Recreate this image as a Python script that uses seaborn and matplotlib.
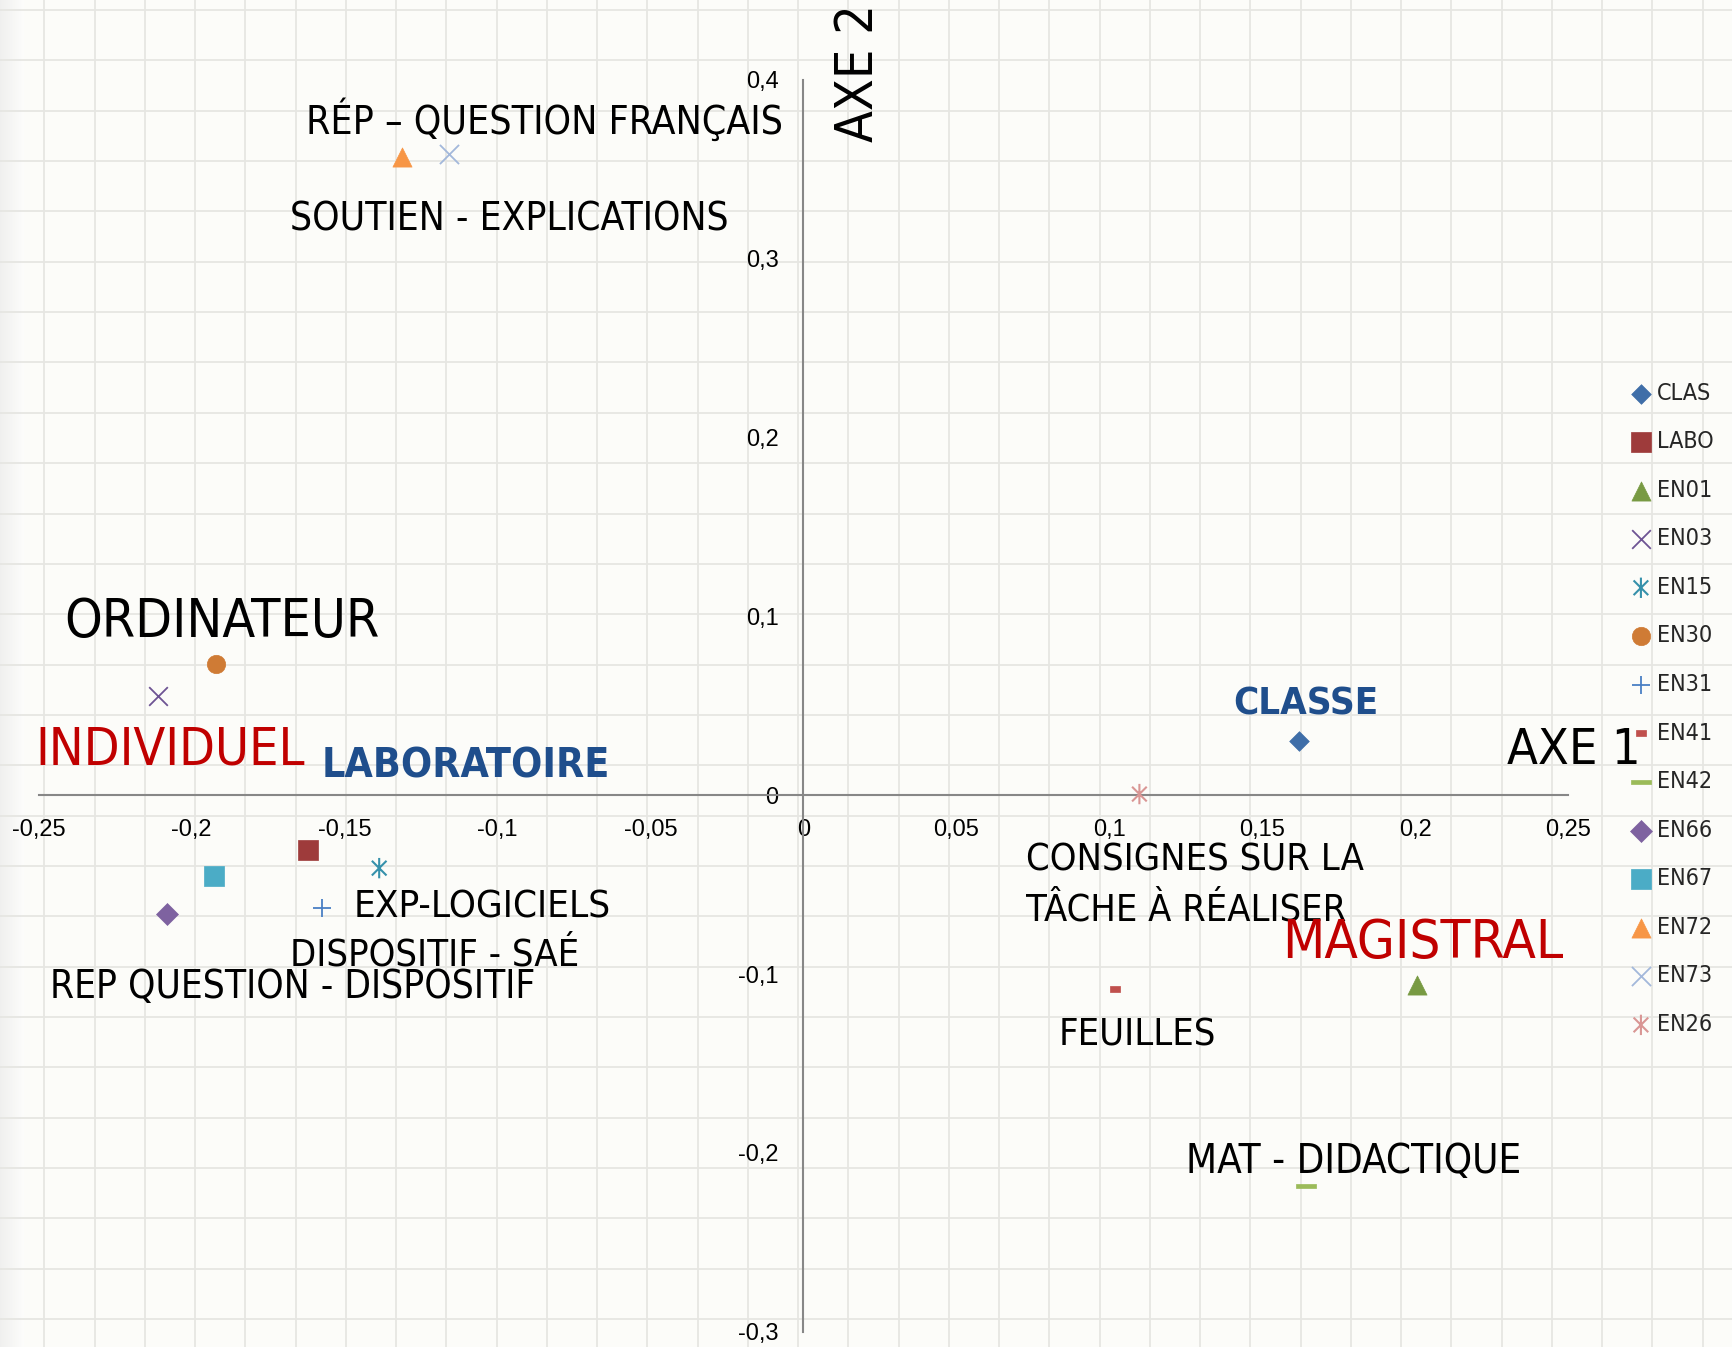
import numpy as np
import matplotlib.pyplot as plt
from matplotlib.path import Path
from matplotlib import font_manager
from matplotlib.font_manager import FontProperties
from matplotlib.textpath import TextPath
import seaborn as sns

# ── data: factorial map coordinates (axe 1, axe 2) ───────────────────────────
series = ["CLAS", "LABO", "EN01", "EN03", "EN15", "EN30", "EN31",
          "EN41", "EN42", "EN66", "EN67", "EN72", "EN73", "EN26"]
axe1 = [0.1619, -0.1619, 0.2005, -0.2110, -0.1387, -0.1922, -0.1575,
        0.1019, 0.1644, -0.2081, -0.1926, -0.1311, -0.1160, 0.1098]
axe2 = [0.0303, -0.0309, -0.1063, 0.0556, -0.0408, 0.0735, -0.0630,
        -0.1081, -0.2187, -0.0667, -0.0451, 0.3565, 0.3583, 0.0006]

x_ticks = [-0.25, -0.2, -0.15, -0.1, -0.05, 0, 0.05, 0.1, 0.15, 0.2, 0.25]
x_tick_labels = ["-0,25", "-0,2", "-0,15", "-0,1", "-0,05", "0",
                 "0,05", "0,1", "0,15", "0,2", "0,25"]
y_ticks = [-0.3, -0.2, -0.1, 0, 0.1, 0.2, 0.3, 0.4]
y_tick_labels = ["-0,3", "-0,2", "-0,1", "0", "0,1", "0,2", "0,3", "0,4"]

# ── fonts ────────────────────────────────────────────────────────────────────
W, H = 1733, 1347
_fonts = font_manager.fontManager.ttflist
_names = {f.name for f in _fonts}
if "Liberation Sans Narrow" in _names:
    NARROW, STRETCH = "Liberation Sans Narrow", "normal"
elif any(f.name == "DejaVu Sans" and f.stretch in ("condensed", "semi-condensed")
         for f in _fonts):
    NARROW, STRETCH = "DejaVu Sans", "condensed"
elif "Roboto" in _names:
    NARROW, STRETCH = "Roboto", "normal"
else:
    NARROW, STRETCH = "DejaVu Sans", "normal"
REGULAR = "Liberation Sans" if "Liberation Sans" in _names else "DejaVu Sans"


def fit_size(text, target_px, weight="normal"):
    """font size (pt) giving an ink width of target_px at dpi 100"""
    fp = FontProperties(family=NARROW, stretch=STRETCH, weight=weight)
    w100 = TextPath((0, 0), text, size=100, prop=fp).get_extents().width
    return target_px * 72 / w100


# ── marker styles ────────────────────────────────────────────────────────────
ASTER = Path([(0, -1), (0, 1), (-0.72, -0.72), (0.72, 0.72), (-0.72, 0.72), (0.72, -0.72)],
             [Path.MOVETO, Path.LINETO] * 3)
DASH_LONG = Path([(-1, -0.25), (1, -0.25), (1, 0.25), (-1, 0.25), (-1, -0.25)],
                 [Path.MOVETO] + [Path.LINETO] * 3 + [Path.CLOSEPOLY])
DASH_SHORT = Path([(-1, -0.5), (1, -0.5), (1, 0.5), (-1, 0.5), (-1, -0.5)],
                  [Path.MOVETO] + [Path.LINETO] * 3 + [Path.CLOSEPOLY])

# marker, size (pt^2), colour, kind
STYLE = {
    "CLAS": ("D", 100, "#3F6EA8", "fill"),
    "LABO": ("s", 200, "#9E3B3B", "fill"),
    "EN01": ("^", 190, "#789A43", "fill"),
    "EN03": ("x", 180, "#6E5494", "line"),
    "EN15": (ASTER, 215, "#3691AB", "path"),
    "EN30": ("o", 175, "#CF7B35", "fill"),
    "EN31": ("+", 170, "#4A7FC4", "line"),
    "EN41": (DASH_SHORT, 62, "#C0504D", "fill"),
    "EN42": (DASH_LONG, 205, "#9BBB59", "fill"),
    "EN66": ("D", 125, "#7E62A0", "fill"),
    "EN67": ("s", 200, "#4BACC6", "fill"),
    "EN72": ("^", 190, "#F79646", "fill"),
    "EN73": ("x", 190, "#A3B8DB", "line"),
    "EN26": (ASTER, 215, "#D99694", "path"),
}

RED, BLUE = "#C00000", "#1F4E8C"
# text, x, y (baseline), colour, ink width (px), weight
LABELS = [
    ("RÉP – QUESTION FRANÇAIS", -0.1626, 0.3695, "black", 471, "normal"),
    ("SOUTIEN - EXPLICATIONS", -0.1680, 0.3157, "black", 434, "normal"),
    ("ORDINATEUR", -0.2415, 0.0883, "black", 311, "normal"),
    ("INDIVIDUEL", -0.2511, 0.0173, RED, 265, "normal"),
    ("LABORATOIRE", -0.1575, 0.0099, BLUE, 282, "bold"),
    ("CLASSE", 0.1405, 0.0451, BLUE, 141, "bold"),
    ("AXE 1", 0.2298, 0.0173, "black", 129, "normal"),
    ("EXP-LOGICIELS", -0.1470, -0.0686, "black", 252, "normal"),
    ("DISPOSITIF - SAÉ", -0.1680, -0.0951, "black", 284, "normal"),
    ("REP QUESTION - DISPOSITIF", -0.2464, -0.1135, "black", 480, "normal"),
    ("CONSIGNES SUR LA", 0.0726, -0.0420, "black", 336, "normal"),
    ("TÂCHE À RÉALISER", 0.0726, -0.0698, "black", 319, "normal"),
    ("MAGISTRAL", 0.1564, -0.0908, RED, 276, "normal"),
    ("FEUILLES", 0.0835, -0.1402, "black", 152, "normal"),
    ("MAT - DIDACTIQUE", 0.1250, -0.2113, "black", 330, "normal"),
]

sns.set_theme(style="white")
plt.rcParams["font.family"] = [REGULAR, "DejaVu Sans"]

fig = plt.figure(figsize=(W / 100, H / 100), dpi=100)
fig.patch.set_facecolor("#FCFCF9")

# background sheet grid (decoration)
bg = fig.add_axes([0, 0, 1, 1], zorder=0)
for gx in np.arange(44.3, W, 50.25):
    bg.axvline(gx, color="#E6E6E2", lw=1.3)
for gy in np.arange(10, H, 50.35):
    bg.axhline(gy, color="#E6E6E2", lw=1.3)
shade = np.linspace(0.9, 0.99, 24).reshape(1, -1)
bg.imshow(shade, extent=[0, 24, H, 0], cmap="gray", vmin=0, vmax=1,
          aspect="auto", alpha=0.55)
bg.set_xlim(0, W)
bg.set_ylim(H, 0)
bg.axis("off")

ax = fig.add_axes([38.7 / W, 15.2 / H, 1529.6 / W, 1252.2 / H], zorder=1)
ax.set_facecolor("none")

for name, x, y in zip(series, axe1, axe2):
    mk, s, c, kind = STYLE[name]
    if kind == "fill":
        sns.scatterplot(x=[x], y=[y], ax=ax, marker=mk, s=s, color=c,
                        edgecolor=c, linewidth=0.5, label=name, zorder=3)
    elif kind == "line":
        sns.scatterplot(x=[x], y=[y], ax=ax, marker=mk, s=s, color=c,
                        linewidth=1.3, label=name, zorder=3)
    else:
        sns.scatterplot(x=[x], y=[y], ax=ax, marker=mk, s=s, color=c,
                        edgecolor=c, facecolor="none", linewidth=1.5,
                        label=name, zorder=3)

ax.set_xlim(-0.25, 0.25)
ax.set_ylim(-0.3, 0.4)
ax.spines["left"].set_position(("data", 0))
ax.spines["bottom"].set_position(("data", 0))
ax.spines["top"].set_visible(False)
ax.spines["right"].set_visible(False)
for sp in ("left", "bottom"):
    ax.spines[sp].set_color("#878787")
    ax.spines[sp].set_linewidth(1.5)
ax.set_xticks(x_ticks)
ax.set_xticklabels(x_tick_labels)
ax.set_yticks(y_ticks)
ax.set_yticklabels(y_tick_labels)
ax.tick_params(axis="both", direction="out", length=6, width=1.5,
               color="#878787", labelsize=17, labelcolor="black")
ax.tick_params(axis="x", pad=11)
ax.tick_params(axis="y", pad=12)
ax.set_xlabel("")
ax.set_ylabel("")

for txt, tx, ty, col, width, wt in LABELS:
    ax.text(tx, ty, txt, color=col, family=NARROW, fontstretch=STRETCH,
            fontsize=fit_size(txt, width, wt), fontweight=wt,
            ha="left", va="baseline", zorder=4)
ax.text(0.0228, 0.3651, "AXE 2", color="black", family=NARROW,
        fontstretch=STRETCH, fontsize=fit_size("AXE 2", 133), rotation=90,
        rotation_mode="anchor", ha="left", va="baseline", zorder=4)

ax.legend(loc="upper left", bbox_to_anchor=(1620 / W, 1 - 370 / H),
          bbox_transform=fig.transFigure, frameon=False, borderpad=0,
          handlelength=0.8, handletextpad=0.3, labelspacing=1.1,
          prop={"family": NARROW, "stretch": STRETCH,
                "size": fit_size("CLAS", 52)})

fig.savefig("out.png", dpi=100, facecolor=fig.get_facecolor())
